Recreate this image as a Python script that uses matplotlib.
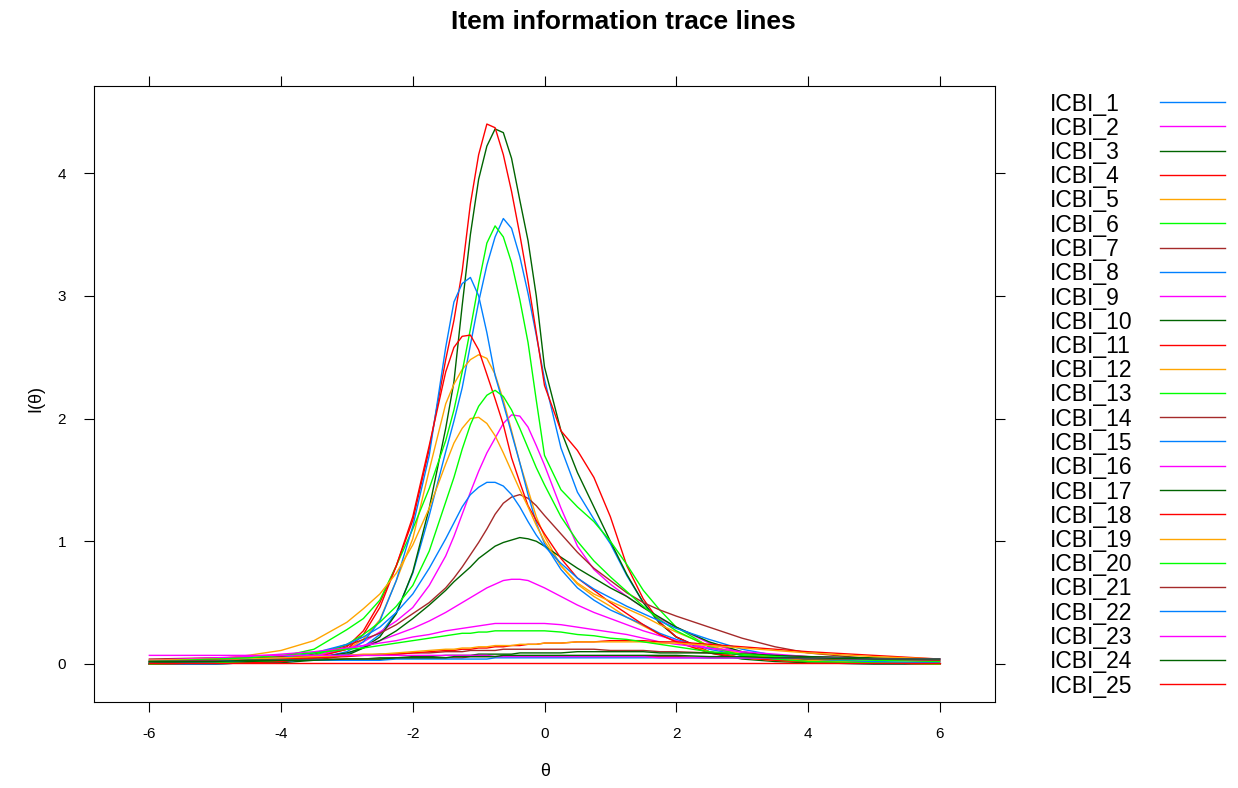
import matplotlib
matplotlib.use("Agg")
import matplotlib.pyplot as plt
from matplotlib.lines import Line2D

plt.rcParams['font.family'] = ['Liberation Sans', 'DejaVu Sans']
plt.rcParams['axes.unicode_minus'] = False

# theta grid the trace lines were read at
theta = [-6, -5, -4.5, -4, -3.5, -3, -2.75, -2.5, -2.25, -2, -1.75, -1.5, -1.375,
         -1.25, -1.125, -1, -0.875, -0.75, -0.625, -0.5, -0.375, -0.25, -0.125, 0,
         0.25, 0.5, 0.75, 1, 1.25, 1.5, 1.75, 2, 2.5, 3, 3.5, 4, 5, 6]

items = ['ICBI_1', 'ICBI_2', 'ICBI_3', 'ICBI_4', 'ICBI_5', 'ICBI_6', 'ICBI_7',
         'ICBI_8', 'ICBI_9', 'ICBI_10', 'ICBI_11', 'ICBI_12', 'ICBI_13', 'ICBI_14',
         'ICBI_15', 'ICBI_16', 'ICBI_17', 'ICBI_18', 'ICBI_19', 'ICBI_20', 'ICBI_21',
         'ICBI_22', 'ICBI_23', 'ICBI_24', 'ICBI_25']

# item information, one row per item
info = [
    [0.0, 0.0, 0.01, 0.02, 0.04, 0.08, 0.14, 0.24, 0.42, 0.74, 1.21, 1.73, 1.98, 2.25, 2.6, 2.95, 3.25, 3.48, 3.63, 3.55, 3.32, 3.02, 2.68, 2.32, 1.76, 1.4, 1.18, 0.98, 0.72, 0.5, 0.34, 0.22, 0.1, 0.05, 0.03, 0.01, 0.0, 0.0],
    [0.0, 0.01, 0.02, 0.03, 0.06, 0.12, 0.18, 0.26, 0.35, 0.46, 0.64, 0.88, 1.04, 1.22, 1.4, 1.57, 1.72, 1.84, 1.96, 2.03, 2.02, 1.93, 1.78, 1.62, 1.27, 0.96, 0.77, 0.65, 0.55, 0.46, 0.37, 0.3, 0.17, 0.09, 0.05, 0.03, 0.01, 0.0],
    [0.0, 0.0, 0.01, 0.01, 0.03, 0.07, 0.13, 0.22, 0.41, 0.75, 1.27, 1.92, 2.3, 2.92, 3.5, 3.95, 4.22, 4.36, 4.33, 4.12, 3.78, 3.45, 3.0, 2.42, 1.9, 1.56, 1.28, 1.0, 0.73, 0.5, 0.33, 0.22, 0.09, 0.04, 0.02, 0.01, 0.0, 0.0],
    [0.0, 0.01, 0.02, 0.03, 0.06, 0.14, 0.27, 0.5, 0.8, 1.17, 1.75, 2.48, 2.8, 3.2, 3.75, 4.15, 4.4, 4.37, 4.15, 3.85, 3.5, 3.12, 2.7, 2.27, 1.9, 1.74, 1.52, 1.2, 0.8, 0.53, 0.34, 0.22, 0.1, 0.05, 0.03, 0.02, 0.01, 0.0],
    [0.0, 0.01, 0.02, 0.03, 0.06, 0.12, 0.2, 0.36, 0.68, 1.02, 1.58, 2.12, 2.28, 2.4, 2.48, 2.52, 2.49, 2.36, 2.15, 1.9, 1.64, 1.42, 1.2, 1.04, 0.8, 0.65, 0.55, 0.47, 0.38, 0.31, 0.24, 0.18, 0.1, 0.05, 0.03, 0.02, 0.01, 0.0],
    [0.01, 0.02, 0.03, 0.06, 0.12, 0.28, 0.37, 0.52, 0.8, 1.1, 1.43, 1.82, 2.07, 2.38, 2.73, 3.1, 3.43, 3.57, 3.48, 3.27, 2.97, 2.62, 2.15, 1.7, 1.42, 1.28, 1.16, 1.0, 0.81, 0.6, 0.44, 0.3, 0.14, 0.07, 0.04, 0.02, 0.01, 0.0],
    [0.0, 0.01, 0.02, 0.04, 0.08, 0.15, 0.2, 0.25, 0.32, 0.41, 0.5, 0.62, 0.7, 0.79, 0.89, 0.99, 1.1, 1.22, 1.31, 1.36, 1.38, 1.35, 1.29, 1.21, 1.06, 0.91, 0.78, 0.68, 0.58, 0.5, 0.44, 0.39, 0.3, 0.21, 0.14, 0.09, 0.04, 0.02],
    [0.0, 0.0, 0.01, 0.02, 0.04, 0.1, 0.18, 0.35, 0.68, 1.12, 1.7, 2.58, 2.95, 3.1, 3.15, 3.0, 2.7, 2.35, 2.12, 1.88, 1.64, 1.38, 1.15, 0.98, 0.77, 0.62, 0.52, 0.44, 0.38, 0.32, 0.25, 0.2, 0.12, 0.07, 0.04, 0.02, 0.01, 0.0],
    [0.0, 0.01, 0.02, 0.04, 0.07, 0.12, 0.15, 0.19, 0.24, 0.29, 0.35, 0.42, 0.46, 0.5, 0.54, 0.58, 0.62, 0.65, 0.68, 0.69, 0.69, 0.68, 0.65, 0.62, 0.55, 0.48, 0.42, 0.37, 0.32, 0.27, 0.23, 0.19, 0.13, 0.08, 0.05, 0.03, 0.01, 0.0],
    [0.0, 0.01, 0.01, 0.02, 0.05, 0.09, 0.13, 0.19, 0.27, 0.37, 0.48, 0.6, 0.67, 0.73, 0.79, 0.86, 0.91, 0.96, 0.99, 1.01, 1.03, 1.02, 1.0, 0.96, 0.87, 0.78, 0.7, 0.62, 0.55, 0.46, 0.38, 0.3, 0.18, 0.1, 0.06, 0.03, 0.01, 0.0],
    [0.0, 0.01, 0.01, 0.02, 0.05, 0.12, 0.24, 0.46, 0.8, 1.2, 1.78, 2.38, 2.58, 2.67, 2.68, 2.56, 2.36, 2.16, 1.95, 1.68, 1.48, 1.29, 1.17, 1.06, 0.86, 0.7, 0.6, 0.5, 0.41, 0.32, 0.24, 0.18, 0.09, 0.05, 0.03, 0.02, 0.01, 0.0],
    [0.02, 0.04, 0.07, 0.11, 0.19, 0.34, 0.45, 0.57, 0.74, 0.97, 1.27, 1.63, 1.8, 1.92, 2.0, 2.01, 1.96, 1.86, 1.72, 1.57, 1.42, 1.28, 1.13, 1.0, 0.8, 0.66, 0.57, 0.51, 0.45, 0.39, 0.32, 0.26, 0.15, 0.08, 0.05, 0.03, 0.01, 0.0],
    [0.0, 0.01, 0.02, 0.03, 0.07, 0.16, 0.24, 0.34, 0.47, 0.64, 0.92, 1.32, 1.52, 1.75, 1.95, 2.1, 2.19, 2.23, 2.18, 2.07, 1.92, 1.76, 1.6, 1.46, 1.2, 1.0, 0.84, 0.71, 0.59, 0.47, 0.36, 0.27, 0.14, 0.07, 0.04, 0.02, 0.01, 0.0],
    [0.04, 0.05, 0.05, 0.06, 0.06, 0.07, 0.07, 0.08, 0.08, 0.09, 0.09, 0.1, 0.1, 0.1, 0.11, 0.11, 0.11, 0.11, 0.12, 0.12, 0.12, 0.12, 0.12, 0.12, 0.12, 0.12, 0.12, 0.11, 0.11, 0.11, 0.1, 0.1, 0.09, 0.08, 0.07, 0.06, 0.04, 0.03],
    [0.01, 0.02, 0.03, 0.05, 0.09, 0.16, 0.22, 0.3, 0.42, 0.57, 0.78, 1.02, 1.15, 1.28, 1.38, 1.44, 1.48, 1.48, 1.45, 1.38, 1.28, 1.16, 1.05, 0.96, 0.82, 0.7, 0.61, 0.54, 0.47, 0.41, 0.35, 0.29, 0.2, 0.12, 0.07, 0.04, 0.02, 0.01],
    [0.03, 0.05, 0.06, 0.08, 0.1, 0.13, 0.15, 0.17, 0.19, 0.22, 0.24, 0.27, 0.28, 0.29, 0.3, 0.31, 0.32, 0.33, 0.33, 0.33, 0.33, 0.33, 0.33, 0.33, 0.32, 0.3, 0.28, 0.26, 0.24, 0.21, 0.18, 0.16, 0.13, 0.1, 0.08, 0.06, 0.04, 0.02],
    [0.01, 0.02, 0.02, 0.03, 0.03, 0.04, 0.04, 0.05, 0.05, 0.06, 0.06, 0.07, 0.07, 0.07, 0.07, 0.08, 0.08, 0.08, 0.08, 0.08, 0.09, 0.09, 0.09, 0.09, 0.09, 0.1, 0.1, 0.1, 0.1, 0.1, 0.09, 0.09, 0.09, 0.08, 0.07, 0.06, 0.05, 0.04],
    [0.02, 0.03, 0.03, 0.04, 0.05, 0.06, 0.07, 0.07, 0.08, 0.09, 0.1, 0.11, 0.11, 0.12, 0.12, 0.13, 0.13, 0.14, 0.14, 0.15, 0.15, 0.16, 0.16, 0.17, 0.17, 0.18, 0.18, 0.19, 0.19, 0.19, 0.18, 0.18, 0.16, 0.14, 0.12, 0.1, 0.07, 0.04],
    [0.03, 0.04, 0.04, 0.05, 0.06, 0.07, 0.08, 0.08, 0.09, 0.1, 0.11, 0.12, 0.12, 0.13, 0.13, 0.14, 0.14, 0.15, 0.15, 0.15, 0.16, 0.16, 0.16, 0.17, 0.17, 0.18, 0.18, 0.18, 0.18, 0.18, 0.17, 0.17, 0.15, 0.13, 0.11, 0.09, 0.06, 0.04],
    [0.02, 0.04, 0.05, 0.07, 0.09, 0.12, 0.13, 0.15, 0.17, 0.19, 0.21, 0.23, 0.24, 0.25, 0.25, 0.26, 0.26, 0.27, 0.27, 0.27, 0.27, 0.27, 0.27, 0.27, 0.26, 0.24, 0.23, 0.21, 0.2, 0.18, 0.16, 0.14, 0.1, 0.08, 0.06, 0.04, 0.03, 0.02],
    [0.02, 0.03, 0.03, 0.03, 0.04, 0.04, 0.04, 0.04, 0.05, 0.05, 0.05, 0.05, 0.05, 0.05, 0.06, 0.06, 0.06, 0.06, 0.06, 0.06, 0.06, 0.06, 0.06, 0.06, 0.06, 0.06, 0.06, 0.06, 0.06, 0.06, 0.06, 0.06, 0.05, 0.05, 0.05, 0.04, 0.04, 0.03],
    [0.02, 0.02, 0.03, 0.03, 0.03, 0.03, 0.03, 0.03, 0.04, 0.04, 0.04, 0.04, 0.04, 0.04, 0.04, 0.04, 0.04, 0.05, 0.05, 0.05, 0.05, 0.05, 0.05, 0.05, 0.05, 0.05, 0.05, 0.05, 0.05, 0.05, 0.05, 0.05, 0.05, 0.05, 0.05, 0.05, 0.04, 0.04],
    [0.07, 0.07, 0.07, 0.07, 0.07, 0.07, 0.07, 0.07, 0.07, 0.07, 0.07, 0.07, 0.07, 0.07, 0.07, 0.07, 0.07, 0.06, 0.06, 0.06, 0.06, 0.06, 0.06, 0.06, 0.06, 0.06, 0.06, 0.06, 0.06, 0.06, 0.05, 0.05, 0.05, 0.05, 0.05, 0.05, 0.04, 0.04],
    [0.02, 0.02, 0.03, 0.03, 0.03, 0.04, 0.04, 0.04, 0.05, 0.05, 0.05, 0.05, 0.06, 0.06, 0.06, 0.06, 0.06, 0.06, 0.07, 0.07, 0.07, 0.07, 0.07, 0.07, 0.07, 0.07, 0.07, 0.07, 0.07, 0.07, 0.07, 0.07, 0.06, 0.06, 0.05, 0.05, 0.04, 0.04],
    [0.01, 0.01, 0.01, 0.01, 0.01, 0.01, 0.01, 0.01, 0.01, 0.01, 0.01, 0.01, 0.01, 0.01, 0.01, 0.01, 0.01, 0.01, 0.01, 0.01, 0.01, 0.01, 0.01, 0.01, 0.01, 0.01, 0.01, 0.01, 0.01, 0.01, 0.01, 0.01, 0.01, 0.01, 0.01, 0.01, 0.01, 0.01],
]

# lattice superpose.line colours, recycled over the items
palette = ['#0080ff', '#ff00ff', '#006400', '#ff0000', '#ffa500', '#00ff00', '#a52a2a']

W, H = 1238, 788
fig = plt.figure(figsize=(W / 100, H / 100), dpi=100)
ax = fig.add_axes([94 / W, (H - 702) / H, (995 - 94) / W, (702 - 86) / H])

for i, row in enumerate(info):
    ax.plot(theta, row, color=palette[i % 7], lw=1.0)

ax.set_xlim(-6.84, 6.84)
ax.set_ylim(-0.31, 4.71)
ax.set_xticks([-6, -4, -2, 0, 2, 4, 6])
ax.set_yticks([0, 1, 2, 3, 4])
for s in ax.spines.values():
    s.set_linewidth(0.8)
    s.set_color('black')
ax.tick_params(direction='out', length=7, width=0.8, top=True, right=True,
               labelsize=11)
ax.tick_params(axis='x', pad=11)
ax.tick_params(axis='y', pad=13)

fig.text(623 / W, 1 - 22 / H, 'Item information trace lines', ha='center',
         va='center', fontsize=19, fontweight='bold')
fig.text(545 / W, 1 - 771 / H, 'θ', ha='center', va='center', fontsize=13)
fig.text(36 / W, 1 - 398 / H, 'I(θ)', ha='center', va='center', fontsize=13,
         rotation=90)

# key on the right, one row per item
for i, name in enumerate(items):
    y = 104 + i * 24.25
    fig.text(1050 / W, 1 - y / H, name, ha='left', va='center', fontsize=16.5)
    fig.add_artist(Line2D([1160 / W, 1225 / W], [1 - (y - 2) / H, 1 - (y - 2) / H],
                          transform=fig.transFigure, color=palette[i % 7], lw=1.0))

fig.savefig('out.png', dpi=100)
